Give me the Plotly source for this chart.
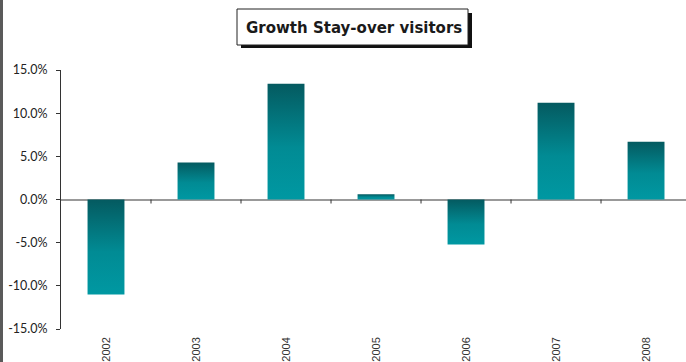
import plotly.graph_objects as go

# Annual growth of stay-over visitors (%)
years = ["2002", "2003", "2004", "2005", "2006", "2007", "2008"]
growth = [-11.0, 4.3, 13.4, 0.6, -5.2, 11.2, 6.7]

y_ticks = [-15, -10, -5, 0, 5, 10, 15]
y_tick_text = [f"{v:.1f}%" for v in y_ticks]

BAR_HALF = 0.205
teal_scale = [[0.0, "#0098a2"], [0.45, "#018b94"], [1.0, "#045a60"]]

fig = go.Figure()

# Each bar is a filled polygon so it can carry a vertical gradient
for i, (yr, v) in enumerate(zip(years, growth)):
    lo, hi = min(0, v), max(0, v)
    fig.add_trace(go.Scatter(
        x=[i - BAR_HALF, i + BAR_HALF, i + BAR_HALF, i - BAR_HALF, i - BAR_HALF],
        y=[lo, lo, hi, hi, lo],
        mode="lines",
        line=dict(width=0),
        fill="toself",
        fillgradient=dict(type="vertical", colorscale=teal_scale, start=lo, stop=hi),
        name=yr,
        hoverinfo="skip",
        showlegend=False,
    ))

# Small tick marks on the zero line between categories
shapes = []
for k in range(len(years) - 1):
    shapes.append(dict(
        type="line", xref="x", yref="y", x0=k + 0.5, x1=k + 0.5,
        ysizemode="pixel", yanchor=0, y0=0, y1=-4,
        line=dict(color="#333333", width=1),
    ))

# Gray frame edge along the left border
shapes.append(dict(
    type="rect", xref="paper", yref="paper",
    x0=-61 / 625, x1=-58 / 625, y0=-1, y1=2,
    fillcolor="#5a5a5a", line=dict(width=0),
))

# Title box shadow and frame
shapes.append(dict(
    type="rect", xref="paper", yref="paper",
    x0=(241 - 61) / 625, x1=(472 - 61) / 625,
    y0=(329 - 48) / 259, y1=(329 - 13) / 259,
    fillcolor="#111111", line=dict(width=0),
))
shapes.append(dict(
    type="rect", xref="paper", yref="paper",
    x0=(237 - 61) / 625, x1=(468 - 61) / 625,
    y0=(329 - 45) / 259, y1=(329 - 9) / 259,
    fillcolor="white", line=dict(color="#222222", width=1),
))

fig.update_layout(
    width=686, height=362,
    margin=dict(l=61, r=0, t=70, b=33),
    paper_bgcolor="white", plot_bgcolor="white",
    shapes=shapes,
    annotations=[dict(
        text="<b>Growth Stay-over visitors</b>",
        xref="paper", yref="paper",
        x=(353.5 - 61) / 625, y=(329 - 27.5) / 259,
        xanchor="center", yanchor="middle", showarrow=False,
        font=dict(family="DejaVu Sans", size=15, color="#1a1a1a"),
    )],
    xaxis=dict(
        range=[-0.5, 6.444],
        tickmode="array", tickvals=list(range(len(years))), ticktext=years,
        tickangle=-90, ticks="", showgrid=False, zeroline=False,
        showline=False, ticklabelstandoff=5,
        tickfont=dict(family="Liberation Sans", size=11, color="#333333"),
        fixedrange=True,
    ),
    yaxis=dict(
        range=[-15, 15],
        tickmode="array", tickvals=y_ticks, ticktext=y_tick_text,
        ticks="outside", ticklen=4, tickcolor="#333333",
        showline=True, linecolor="#333333", linewidth=1,
        showgrid=False,
        zeroline=True, zerolinecolor="#999999", zerolinewidth=2,
        ticklabelstandoff=6,
        tickfont=dict(family="Lato", size=12.5, color="#222222"),
        fixedrange=True,
    ),
)

fig.write_html("out.html")
